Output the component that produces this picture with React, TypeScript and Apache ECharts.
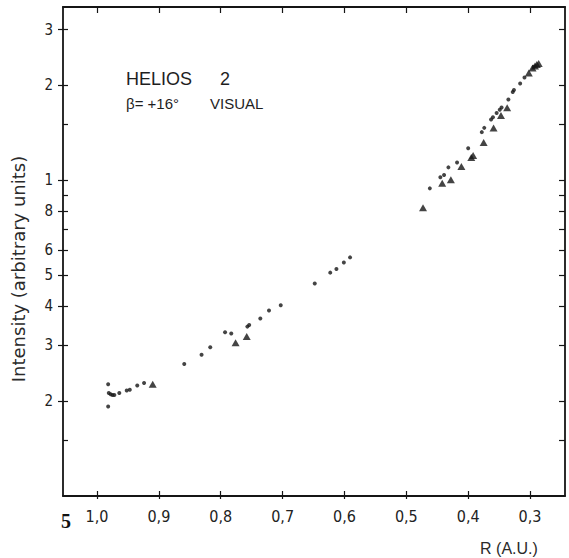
import React, { useEffect, useRef } from "react";
import * as echarts from "echarts";

// Distance from the Sun, R (A.U.), and intensity (arbitrary units)
const dotsR = [0.982, 0.981, 0.978, 0.975, 0.972, 0.982, 0.964, 0.952, 0.947, 0.935, 0.924, 0.859, 0.831, 0.817, 0.793, 0.783, 0.757, 0.754, 0.736, 0.722, 0.703, 0.648, 0.623, 0.613, 0.601, 0.591, 0.462, 0.445, 0.439, 0.432, 0.418, 0.400, 0.378, 0.374, 0.363, 0.360, 0.354, 0.349, 0.346, 0.335, 0.328, 0.326, 0.316, 0.309, 0.294];
const dotsI = [0.226, 0.212, 0.210, 0.209, 0.209, 0.192, 0.212, 0.216, 0.217, 0.224, 0.228, 0.262, 0.280, 0.296, 0.330, 0.327, 0.344, 0.348, 0.365, 0.387, 0.402, 0.471, 0.510, 0.524, 0.549, 0.570, 0.943, 1.023, 1.040, 1.099, 1.139, 1.263, 1.421, 1.466, 1.558, 1.584, 1.633, 1.672, 1.702, 1.804, 1.904, 1.931, 2.026, 2.117, 2.29];
const triR = [0.910, 0.776, 0.758, 0.473, 0.442, 0.428, 0.411, 0.395, 0.392, 0.375, 0.359, 0.347, 0.337, 0.302, 0.296, 0.292, 0.289, 0.286];
const triI = [0.226, 0.306, 0.320, 0.819, 0.979, 1.004, 1.107, 1.181, 1.198, 1.318, 1.464, 1.604, 1.698, 2.188, 2.269, 2.302, 2.328, 2.345];

const xTicks = [0.3, 0.4, 0.5, 0.6, 0.7, 0.8, 0.9, 1.0];
const yMajorTicks = [0.2, 0.3, 0.4, 0.5, 0.6, 0.8, 1, 2, 3];
const yMinorTicks = [0.15, 0.7, 0.9, 1.5];

const X_MAX = 1.055;
const X_MIN = 0.2435;
const Y_MIN = 0.1;
const Y_MAX = 3.54;

const INK = "#151515";
const NARROW = "'Liberation Sans Narrow', 'DejaVu Sans Condensed', 'Liberation Sans', sans-serif";

export default function App() {
  const ref = useRef<HTMLDivElement>(null);
  useEffect(() => {
    if (!ref.current) return;
    const chart = echarts.init(ref.current, null, { renderer: "svg" });
    const lg = (v: number) => Math.log10(v);
    const allY = [...yMinorTicks, ...yMajorTicks].sort((a, b) => a - b).map(lg);
    const majY = yMajorTicks.map(lg);
    const lineStyle = { color: INK, width: 1.8 };
    const tickStyle = { color: INK, width: 1.2 };
    const xBase = {
      type: "value",
      inverse: true,
      min: X_MIN,
      max: X_MAX,
      splitLine: { show: false },
    };
    const yBase = {
      type: "value",
      min: lg(Y_MIN),
      max: lg(Y_MAX),
      splitLine: { show: false },
    };
    const option: any = {
      animation: false,
      backgroundColor: "#ffffff",
      grid: { left: 63, right: 4, top: 7, bottom: 62 },
      xAxis: [
        {
          ...xBase,
          position: "bottom",
          axisLine: { show: true, onZero: false, lineStyle },
          axisTick: { show: true, inside: false, length: 3, customValues: xTicks, lineStyle: tickStyle },
          axisLabel: {
            customValues: xTicks,
            margin: 12,
            fontSize: 16,
            fontFamily: NARROW,
            color: "#222",
            formatter: (v: number) => v.toFixed(1).replace(".", ","),
          },
        },
        {
          ...xBase,
          position: "bottom",
          axisLine: { show: false, onZero: false },
          axisTick: { show: true, inside: true, length: 5, customValues: xTicks, lineStyle: tickStyle },
          axisLabel: { show: false },
        },
        {
          ...xBase,
          position: "top",
          axisLine: { show: true, onZero: false, lineStyle },
          axisTick: { show: true, inside: true, length: 6, customValues: xTicks, lineStyle: tickStyle },
          axisLabel: { show: false },
        },
      ],
      yAxis: [
        {
          ...yBase,
          position: "left",
          axisLine: { show: true, onZero: false, lineStyle },
          axisTick: { show: true, inside: false, length: 5, customValues: majY, lineStyle: tickStyle },
          axisLabel: {
            customValues: majY,
            margin: 10,
            fontSize: 15,
            fontFamily: NARROW,
            color: "#222",
            formatter: (v: number) => {
              const r = Math.pow(10, v);
              return r >= 0.999 ? String(Math.round(r)) : String(Math.round(r * 10));
            },
          },
        },
        {
          ...yBase,
          position: "left",
          axisLine: { show: false, onZero: false },
          axisTick: { show: true, inside: true, length: 5, customValues: allY, lineStyle: tickStyle },
          axisLabel: { show: false },
        },
        {
          ...yBase,
          position: "right",
          axisLine: { show: true, onZero: false, lineStyle },
          axisTick: { show: true, inside: true, length: 6, customValues: allY, lineStyle: tickStyle },
          axisLabel: { show: false },
        },
      ],
      series: [
        {
          type: "scatter",
          xAxisIndex: 0,
          yAxisIndex: 0,
          symbol: "circle",
          symbolSize: 4,
          itemStyle: { color: INK },
          data: dotsR.map((r, i) => [r, lg(dotsI[i])]),
        },
        {
          type: "scatter",
          xAxisIndex: 0,
          yAxisIndex: 0,
          symbol: "triangle",
          symbolSize: [8, 7],
          itemStyle: { color: INK },
          data: triR.map((r, i) => [r, lg(triI[i])]),
        },
      ],
      graphic: [
        {
          type: "text",
          x: 18,
          y: 269,
          rotation: Math.PI / 2,
          style: {
            text: "Intensity (arbitrary units)",
            fontSize: 18,
            fontFamily: "'DejaVu Sans', sans-serif",
            fill: "#2a2a2a",
            align: "center",
            verticalAlign: "middle",
          },
        },
        {
          type: "text",
          x: 509,
          y: 548,
          style: {
            text: "R (A.U.)",
            fontSize: 16,
            fontFamily: "'Liberation Sans', sans-serif",
            fill: "#2a2a2a",
            align: "center",
            verticalAlign: "middle",
          },
        },
        {
          type: "text",
          x: 126,
          y: 79,
          style: {
            text: "HELIOS",
            fontSize: 18,
            fontFamily: "'Liberation Sans', sans-serif",
            fill: "#1e1e1e",
            align: "left",
            verticalAlign: "middle",
          },
        },
        {
          type: "text",
          x: 220,
          y: 79,
          style: {
            text: "2",
            fontSize: 18,
            fontFamily: "'Liberation Sans', sans-serif",
            fill: "#1e1e1e",
            align: "left",
            verticalAlign: "middle",
          },
        },
        {
          type: "text",
          x: 126,
          y: 103,
          style: {
            text: "β= +16°",
            fontSize: 15,
            fontFamily: "'Liberation Sans', sans-serif",
            fill: "#1e1e1e",
            align: "left",
            verticalAlign: "middle",
          },
        },
        {
          type: "text",
          x: 210,
          y: 103,
          style: {
            text: "VISUAL",
            fontSize: 15,
            fontFamily: "'Liberation Sans', sans-serif",
            fill: "#1e1e1e",
            align: "left",
            verticalAlign: "middle",
          },
        },
        {
          type: "text",
          x: 66,
          y: 521,
          style: {
            text: "5",
            fontSize: 20,
            fontWeight: "bold",
            fontFamily: "'Liberation Serif', 'DejaVu Serif', serif",
            fill: "#111",
            align: "center",
            verticalAlign: "middle",
          },
        },
      ],
    };
    chart.setOption(option);
    return () => chart.dispose();
  }, []);
  return (
    <div
      ref={ref}
      style={{ position: "fixed", left: 0, top: 0, width: 569, height: 558, background: "#fff" }}
    />
  );
}
